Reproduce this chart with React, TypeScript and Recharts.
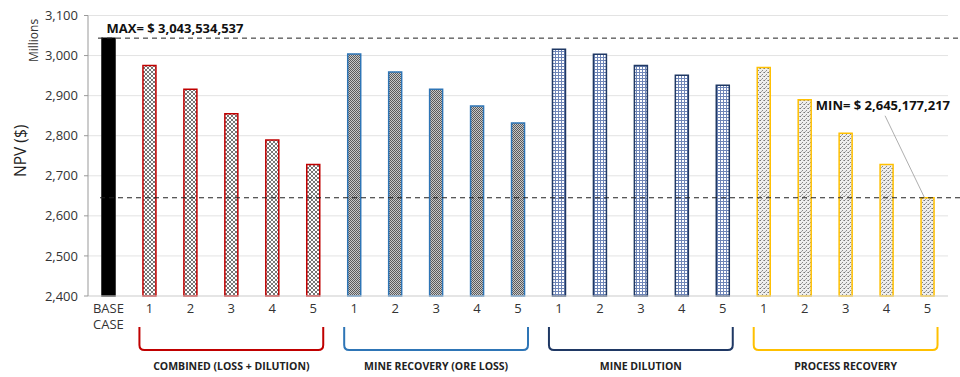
import React from 'react';
import { BarChart, Bar, XAxis, YAxis, CartesianGrid, Cell, ReferenceLine, LabelList } from 'recharts';

// ---- data (NPV, $ millions) ----
const categoryIds = ['BASE', 'C1', 'C2', 'C3', 'C4', 'C5', 'R1', 'R2', 'R3', 'R4', 'R5', 'D1', 'D2', 'D3', 'D4', 'D5', 'P1', 'P2', 'P3', 'P4', 'P5'];
const tickLabels = ['BASE|CASE', '1', '2', '3', '4', '5', '1', '2', '3', '4', '5', '1', '2', '3', '4', '5', '1', '2', '3', '4', '5'];
const baseCase = [3043.534537];
const combinedLossDilution = [2975, 2916, 2855, 2789, 2728];
const mineRecovery = [3004, 2959, 2916, 2874, 2832];
const mineDilution = [3016, 3003, 2975, 2951, 2926];
const processRecovery = [2970, 2890, 2806, 2728, 2645.177217];
const yTicks = [2400, 2500, 2600, 2700, 2800, 2900, 3000, 3100];
const groupNames = ['COMBINED (LOSS + DILUTION)', 'MINE RECOVERY (ORE LOSS)', 'MINE DILUTION', 'PROCESS RECOVERY'];
const groupColors = ['#C00000', '#2E75B6', '#1F3864', '#FFC000'];
const groupFills = ['url(#patCross)', 'url(#patChecker)', 'url(#patGrid)', 'url(#patDots)'];

const values = [...baseCase, ...combinedLossDilution, ...mineRecovery, ...mineDilution, ...processRecovery];
const data = categoryIds.map((id, i) => ({ id, value: values[i] }));
const maxValue = Math.max(...values);
const minValue = Math.min(...values);
const maxIndex = values.indexOf(maxValue);
const minIndex = values.indexOf(minValue);
const fmtMoney = (v: number) => '$ ' + Math.round(v * 1e6).toLocaleString('en-US');

const groupOf = (i: number) => (i === 0 ? -1 : Math.floor((i - 1) / 5));
const FONT = '"Open Sans", Lato, sans-serif';

const XTick = (props: any) => {
  const { x, y, payload } = props;
  const index = payload?.index ?? props.index;
  const off = payload?.offset ?? 20.5;
  const label = tickLabels[index];
  const g = groupOf(index);
  const isMiddle = g >= 0 && (index - 1) % 5 === 2;
  const els: any[] = [];
  if (label.includes('|')) {
    const [a, b] = label.split('|');
    els.push(
      <text key="t" x={x} y={y} textAnchor="middle" fontFamily={FONT} fontSize={13} fill="#333">
        <tspan x={x} dy="0.71em">{a}</tspan>
        <tspan x={x} dy="1.25em">{b}</tspan>
      </text>
    );
  } else {
    els.push(
      <text key="t" x={x} y={y} dy="0.71em" textAnchor="middle" fontFamily={FONT} fontSize={13} fill="#333">{label}</text>
    );
  }
  if (isMiddle) {
    const L = x - 4 * off - 10;
    const R = x + 4 * off + 10;
    const top = y + 23;
    const bot = y + 46;
    const r = 5;
    els.push(
      <path key="b" d={`M${L},${top} L${L},${bot - r} Q${L},${bot} ${L + r},${bot} L${R - r},${bot} Q${R},${bot} ${R},${bot - r} L${R},${top}`}
        fill="none" stroke={groupColors[g]} strokeWidth={2} />
    );
    els.push(
      <text key="g" x={x} y={y + 66} textAnchor="middle" fontFamily={FONT} fontWeight="bold" fontSize={10.5} fill="#222">{groupNames[g]}</text>
    );
  }
  return <g>{els}</g>;
};

const Annot = (props: any) => {
  const { x, y, width, index } = props;
  if (index === maxIndex) {
    return (
      <text x={x + 4.5} y={y - 5.5} fontFamily={FONT} fontWeight="bold" fontSize={13} fill="#111">
        {'MAX= ' + fmtMoney(maxValue)}
      </text>
    );
  }
  if (index === minIndex) {
    return (
      <g>
        <line x1={x + 3.5} y1={y} x2={x - 36} y2={y - 82} stroke="#999" strokeWidth={0.8} />
        <text x={x + width + 16} y={y - 88} textAnchor="end" fontFamily={FONT} fontWeight="bold" fontSize={13} fill="#111">
          {'MIN= ' + fmtMoney(minValue)}
        </text>
      </g>
    );
  }
  return null;
};

const DashShape = (lx: number, rx: number) => (props: any) => (
  <line x1={props.x1 + lx} y1={props.y1} x2={props.x2 + rx} y2={props.y2} stroke="#222" strokeWidth={1} strokeDasharray="5 4" />
);

const YLabel = (props: any) => {
  const vb = props.viewBox || { x: 0, y: 15, width: 88, height: 281 };
  const cx = 20;
  const cy = vb.y + vb.height / 2 - 5;
  return (
    <g>
      <text x={cx} y={cy} transform={`rotate(-90 ${cx} ${cy})`} textAnchor="middle" dominantBaseline="central" fontFamily={FONT} fontSize={15.5} fill="#222">NPV ($)</text>
      <text x={33} y={vb.y + 25} transform={`rotate(-90 33 ${vb.y + 25})`} textAnchor="middle" dominantBaseline="central" fontFamily={FONT} fontSize={12} fill="#333">Millions</text>
    </g>
  );
};

export default function App() {
  return (
    <div style={{ position: 'absolute', left: 0, top: 0, width: 960, height: 377, background: '#fff' }}>
      <BarChart width={960} height={377} data={data} margin={{ top: 15.5, right: 12, bottom: 0, left: 0 }} barSize={13}>
        <defs>
          <pattern id="patCross" width="4" height="4" patternUnits="userSpaceOnUse">
            <rect width="4" height="4" fill="#fff" />
            <path d="M0,0 L4,4 M4,0 L0,4" stroke="#666" strokeWidth="0.9" />
          </pattern>
          <pattern id="patChecker" width="2" height="2" patternUnits="userSpaceOnUse">
            <rect width="2" height="2" fill="#c8c8c8" />
            <rect width="1" height="1" fill="#5a5a5a" />
            <rect x="1" y="1" width="1" height="1" fill="#5a5a5a" />
          </pattern>
          <pattern id="patGrid" width="3" height="3" patternUnits="userSpaceOnUse">
            <rect width="3" height="3" fill="#fff" />
            <path d="M0,0.5 L3,0.5 M0.5,0 L0.5,3" stroke="#6f86b8" strokeWidth="1" />
          </pattern>
          <pattern id="patDots" width="4" height="4" patternUnits="userSpaceOnUse">
            <rect width="4" height="4" fill="#eeeeee" />
            <rect x="0" y="0" width="1" height="1" fill="#777" />
            <rect x="2" y="2" width="1" height="1" fill="#888" />
            <rect x="3" y="0" width="1" height="1" fill="#aaa" />
            <rect x="1" y="3" width="1" height="1" fill="#aaa" />
          </pattern>
        </defs>
        <CartesianGrid vertical={false} stroke="#e3e3e3" />
        <XAxis dataKey="id" interval={0} tickLine={false} axisLine={{ stroke: '#d9d9d9' }} height={81} tick={<XTick />} />
        <YAxis
          domain={[2400, 3100]}
          ticks={yTicks}
          width={88}
          tickFormatter={(v: number) => v.toLocaleString('en-US')}
          tick={{ fontFamily: FONT, fontSize: 13, fill: '#333' }}
          tickSize={4}
          tickMargin={6}
          tickLine={{ stroke: '#999' }}
          axisLine={{ stroke: '#999' }}
          label={<YLabel />}
        />
        <ReferenceLine y={maxValue} shape={DashShape(10, 12)} />
        <ReferenceLine y={minValue} shape={DashShape(12, 12)} />
        <Bar dataKey="value" isAnimationActive={false} strokeWidth={1.5}>
          {data.map((d, i) => {
            const g = groupOf(i);
            return (
              <Cell key={d.id} fill={g < 0 ? '#000' : groupFills[g]} stroke={g < 0 ? '#000' : groupColors[g]} />
            );
          })}
          <LabelList dataKey="value" content={<Annot />} />
        </Bar>
      </BarChart>
    </div>
  );
}
